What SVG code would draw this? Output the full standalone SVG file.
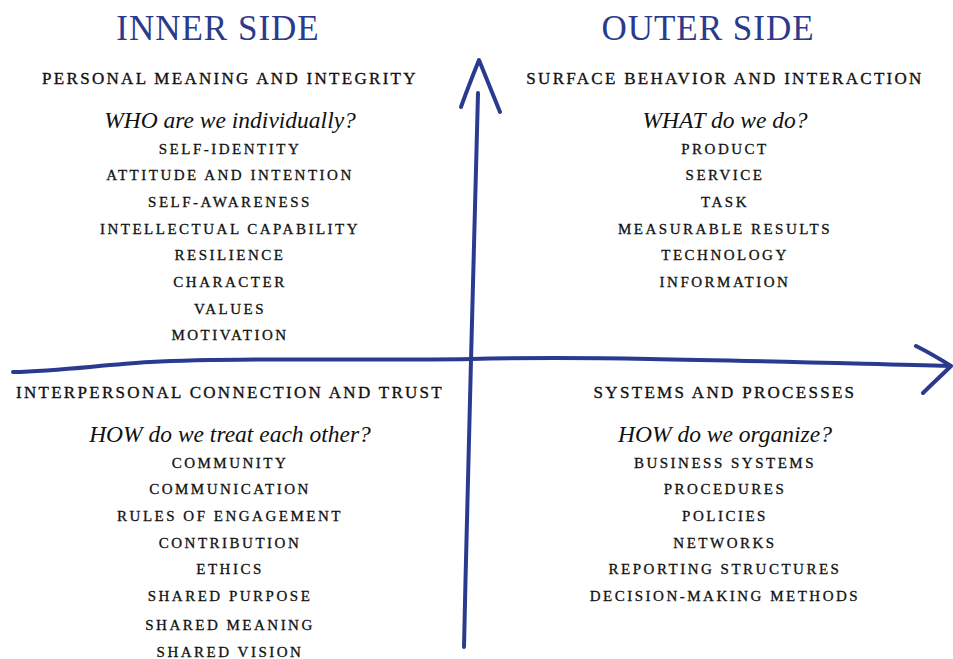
<svg xmlns="http://www.w3.org/2000/svg" width="953" height="659" viewBox="0 0 953 659">
<style>
.h{font-family:"Liberation Serif",serif;font-size:35px;fill:#2b3a8c;letter-spacing:1px;text-anchor:middle}
.s{font-family:"Liberation Serif",serif;font-size:17px;fill:#111;stroke:#111;stroke-width:0.35px;letter-spacing:2.3px;text-anchor:middle}
.q{font-family:"Liberation Serif",serif;font-size:23.5px;font-style:italic;fill:#111;text-anchor:middle}
.i{font-family:"Liberation Serif",serif;font-size:15px;fill:#111;stroke:#111;stroke-width:0.3px;letter-spacing:2.5px;text-anchor:middle}
.ax{fill:none;stroke:#2a3a8f;stroke-width:4;stroke-linecap:round;stroke-linejoin:round}
</style>
<rect width="953" height="659" fill="#fff"/>
<g id="connectors">
<path class="ax" d="M478,93 C476,160 474,250 471,360 C469,450 466,550 464,647"/>
<path class="ax" d="M461,107 C467,90 473,75 479,60 C486,77 493,95 500,112"/>
<path class="ax" d="M13,372 C60,371 100,365 150,362 C250,357 350,361 471,359 C600,356 750,361 950,366"/>
<path class="ax" d="M916,346 C928,352 940,359 951,366 C942,375 932,384 923,393"/>
</g>
<g id="inner-side"><text class="h" x="218" y="40">INNER SIDE</text></g>
<g id="outer-side"><text class="h" x="708" y="40">OUTER SIDE</text></g>
<g id="personal">
<text class="s" x="230" y="84">PERSONAL MEANING AND INTEGRITY</text>
<text class="q" x="230" y="128">WHO are we individually?</text>
<text class="i" x="230" y="154">SELF-IDENTITY</text>
<text class="i" x="230" y="180">ATTITUDE AND INTENTION</text>
<text class="i" x="230" y="207">SELF-AWARENESS</text>
<text class="i" x="230" y="234">INTELLECTUAL CAPABILITY</text>
<text class="i" x="230" y="260">RESILIENCE</text>
<text class="i" x="230" y="287">CHARACTER</text>
<text class="i" x="230" y="314">VALUES</text>
<text class="i" x="230" y="340">MOTIVATION</text>
</g>
<g id="surface">
<text class="s" x="725" y="84">SURFACE BEHAVIOR AND INTERACTION</text>
<text class="q" x="725" y="128">WHAT do we do?</text>
<text class="i" x="725" y="154">PRODUCT</text>
<text class="i" x="725" y="180">SERVICE</text>
<text class="i" x="725" y="207">TASK</text>
<text class="i" x="725" y="234">MEASURABLE RESULTS</text>
<text class="i" x="725" y="260">TECHNOLOGY</text>
<text class="i" x="725" y="287">INFORMATION</text>
</g>
<g id="interpersonal">
<text class="s" x="230" y="398">INTERPERSONAL CONNECTION AND TRUST</text>
<text class="q" x="230" y="442">HOW do we treat each other?</text>
<text class="i" x="230" y="468">COMMUNITY</text>
<text class="i" x="230" y="494">COMMUNICATION</text>
<text class="i" x="230" y="521">RULES OF ENGAGEMENT</text>
<text class="i" x="230" y="548">CONTRIBUTION</text>
<text class="i" x="230" y="574">ETHICS</text>
<text class="i" x="230" y="601">SHARED PURPOSE</text>
<text class="i" x="230" y="630">SHARED MEANING</text>
<text class="i" x="230" y="657">SHARED VISION</text>
</g>
<g id="systems">
<text class="s" x="725" y="398">SYSTEMS AND PROCESSES</text>
<text class="q" x="725" y="442">HOW do we organize?</text>
<text class="i" x="725" y="468">BUSINESS SYSTEMS</text>
<text class="i" x="725" y="494">PROCEDURES</text>
<text class="i" x="725" y="521">POLICIES</text>
<text class="i" x="725" y="548">NETWORKS</text>
<text class="i" x="725" y="574">REPORTING STRUCTURES</text>
<text class="i" x="725" y="601">DECISION-MAKING METHODS</text>
</g>
</svg>
